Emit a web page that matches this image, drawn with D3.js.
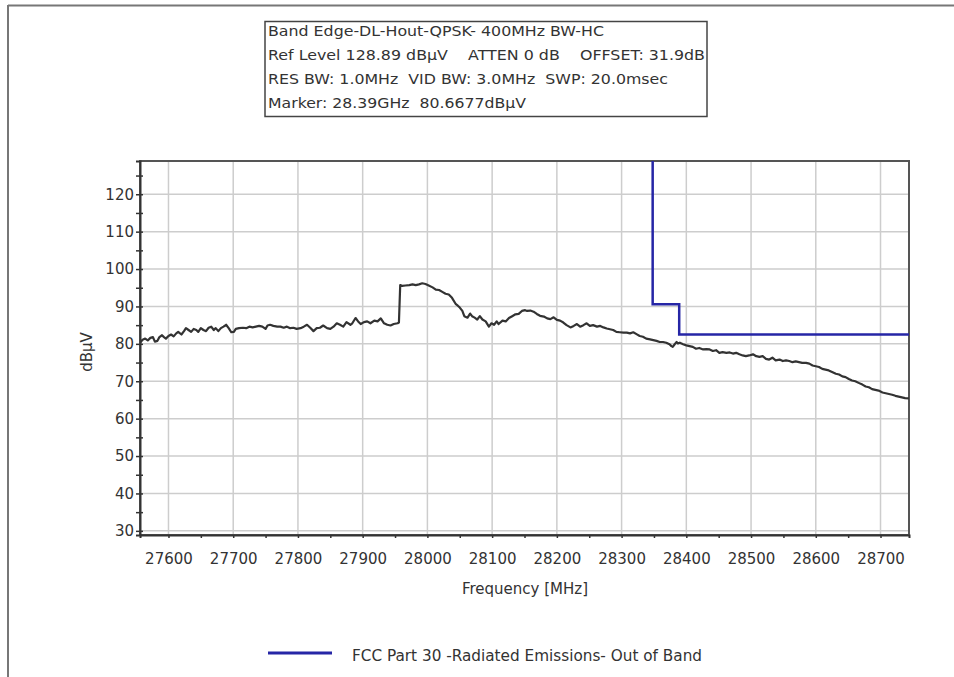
<!DOCTYPE html>
<html>
<head>
<meta charset="utf-8">
<script src="https://cdn.jsdelivr.net/npm/d3@7"></script>
<style>
  html, body { margin: 0; padding: 0; background: #fff; }
  svg { display: block; }
  text { font-family: "DejaVu Sans", "Liberation Sans", sans-serif; fill: #333; }
</style>
</head>
<body>
<svg id="chart" width="954" height="677"></svg>
<script>
// ---------------- data ----------------
const headerLines = [
  "Band Edge-DL-Hout-QPSK- 400MHz BW-HC",
  "Ref Level 128.89 dB\u00b5V    ATTEN 0 dB    OFFSET: 31.9dB",
  "RES BW: 1.0MHz  VID BW: 3.0MHz  SWP: 20.0msec",
  "Marker: 28.39GHz  80.6677dB\u00b5V"
];
const xTicks = [27600,27700,27800,27900,28000,28100,28200,28300,28400,28500,28600,28700];
const xMinorTicks = [27650,27750,27850,27950,28050,28150,28250,28350,28450,28550,28650];
const yTicks = [30,40,50,60,70,80,90,100,110,120];
const yMinorTicks = [35,45,55,65,75,85,95,105,115,125];
const xDomain = [27556, 28744];
const yDomain = [28.89, 128.89];
const xTitle = "Frequency [MHz]";
const yTitle = "dB\u00b5V";
const legendLabel = "FCC Part 30 -Radiated Emissions- Out of Band";

// measured trace (MHz, dBµV)
const traceFreq = [
  27556,27560,27564,27568,27572,27576,27579,27583,27586,27590,
  27593,27596,27600,27604,27608,27612,27615,27620,27624,27627,
  27631,27635,27639,27643,27646,27650,27654,27658,27662,27666,
  27670,27673,27677,27681,27685,27689,27693,27697,27701,27704,
  27709,27715,27720,27725,27730,27735,27740,27745,27750,27753,
  27757,27762,27768,27773,27778,27783,27788,27793,27798,27804,
  27809,27814,27819,27824,27829,27834,27839,27845,27850,27855,
  27860,27865,27870,27875,27881,27884,27889,27893,27897,27902,
  27907,27912,27918,27923,27928,27933,27938,27943,27948,27954,
  27956,27958,27961,27966,27972,27977,27982,27987,27992,27997,
  28002,28008,28013,28018,28023,28028,28033,28038,28044,28047,
  28050,28054,28057,28062,28066,28069,28073,28077,28081,28085,
  28090,28095,28099,28103,28107,28110,28116,28121,28126,28131,
  28136,28141,28146,28151,
  28154,28159,28164,28169,28174,28180,28185,28190,28195,28200,
  28205,28210,28215,28221,28226,28231,28236,28241,28246,28251,
  28256,28262,28267,28272,28277,28282,28287,28292,28297,28303,
  28308,28313,28318,28323,28328,28333,28338,28344,28349,28354,
  28359,28364,28369,28374,28377,28379,28382,28385,28387,28390,
  28395,28400,28405,28410,28415,28420,28426,28431,28436,28441,
  28446,28451,28456,28462,28467,28472,28477,28482,28487,28492,
  28497,28503,28508,28513,28518,28523,28528,28533,28538,28544,
  28549,28554,28559,28564,28569,28574,28579,28585,28590,28595,
  28600,28605,28610,28615,28620,28626,28631,28636,28641,28646,
  28651,28656,28661,28667,28672,28677,28682,28687,28692,28697,
  28703,28708,28713,28718,28723,28728,28733,28738,28744
];
const traceLevel = [
  80.3,81.1,81.4,80.9,81.6,81.8,80.6,80.8,81.8,82.3,
  81.8,81.4,82.1,82.5,82.0,82.8,83.2,82.5,83.4,84.2,
  83.7,83.2,84.0,83.7,83.2,84.2,83.7,83.4,84.3,84.6,
  83.7,84.2,83.4,84.2,84.6,85.1,84.2,83.1,83.2,84.0,
  84.2,84.3,84.2,84.6,84.4,84.6,84.8,84.6,84.0,84.9,
  85.1,84.8,84.6,84.6,84.3,84.6,84.2,84.3,84.0,84.2,
  84.6,85.1,84.3,83.4,84.2,84.3,84.9,84.2,84.0,84.6,
  85.5,85.1,84.6,85.8,85.1,85.5,86.9,86.0,85.3,85.8,
  86.0,85.5,86.2,86.0,86.8,85.5,85.1,84.9,85.3,85.5,
  85.7,95.7,95.5,95.6,95.7,95.9,95.7,95.9,96.2,96.0,
  95.6,95.1,94.5,94.4,93.9,93.4,93.2,92.3,90.6,90.2,
  89.7,88.8,87.4,87.0,88.1,87.4,87.0,86.5,87.4,86.5,
  86.0,84.6,85.5,85.1,86.0,85.3,86.2,86.0,86.9,87.4,
  87.9,88.0,88.8,89.0,
  88.8,88.9,88.6,88.0,87.5,87.3,86.8,86.6,87.1,86.4,
  86.2,85.7,85.0,84.4,84.8,85.3,84.6,85.0,85.5,84.8,
  85.0,84.6,84.8,84.4,84.1,83.9,83.7,83.2,83.1,83.0,
  83.0,82.8,83.1,82.6,82.1,81.9,81.4,81.2,81.0,80.8,
  80.5,80.5,80.3,79.9,79.4,79.2,79.9,80.5,80.1,80.3,
  79.9,79.6,79.4,79.2,78.7,78.9,78.5,78.6,78.5,78.1,
  78.3,77.6,77.8,77.6,77.7,77.4,77.6,77.2,76.9,76.7,
  76.9,77.2,76.7,76.5,76.7,76.0,75.8,76.3,75.6,75.8,
  75.4,75.6,75.4,75.1,75.3,75.1,74.9,74.9,74.7,74.2,
  74.0,73.8,73.3,73.1,72.9,72.4,72.0,71.8,71.3,71.1,
  70.6,70.2,70.0,69.5,69.1,68.6,68.4,67.9,67.7,67.5,
  67.0,66.8,66.6,66.4,66.1,65.9,65.7,65.5,65.4
];

// FCC limit line (MHz, dBµV)
const limitFreq  = [28348, 28348, 28389, 28389, 28744];
const limitLevel = [128.89, 90.6, 90.6, 82.5, 82.5];

// ---------------- layout ----------------
const plot = { left: 140, right: 909, top: 161, bottom: 535 };
const svg = d3.select("#chart");

// outer frame (top & left edges)
svg.append("line").attr("x1", 8).attr("x2", 954).attr("y1", 5.5).attr("y2", 5.5)
  .attr("stroke", "#777").attr("stroke-width", 2);
svg.append("line").attr("x1", 8).attr("x2", 8).attr("y1", 5).attr("y2", 677)
  .attr("stroke", "#777").attr("stroke-width", 2);

// header box
const hb = { x: 265, y: 21.5, w: 442, h: 95 };
svg.append("rect").attr("x", hb.x).attr("y", hb.y).attr("width", hb.w).attr("height", hb.h)
  .attr("fill", "#fff").attr("stroke", "#444").attr("stroke-width", 1.5);
const headerWidths = [336, 437, 400, 258];
const headerBaselines = [35.5, 59.5, 83.5, 107.5];
headerLines.forEach((t, i) => {
  svg.append("text")
    .attr("x", 268).attr("y", headerBaselines[i])
    .attr("font-size", 14.8)
    .style("white-space", "pre")
    .attr("textLength", headerWidths[i])
    .attr("lengthAdjust", "spacingAndGlyphs")
    .text(t);
});

const x = d3.scaleLinear().domain(xDomain).range([plot.left, plot.right]);
const y = d3.scaleLinear().domain(yDomain).range([plot.bottom, plot.top]);

// grid
const grid = svg.append("g").attr("stroke", "#cdcdcd").attr("stroke-width", 1.5);
grid.selectAll("line.v").data(xTicks).join("line")
  .attr("x1", d => x(d)).attr("x2", d => x(d))
  .attr("y1", plot.top).attr("y2", plot.bottom);
grid.selectAll("line.h").data(yTicks).join("line")
  .attr("y1", d => y(d)).attr("y2", d => y(d))
  .attr("x1", plot.left).attr("x2", plot.right);

// top/right border
svg.append("rect").attr("x", plot.left).attr("y", plot.top)
  .attr("width", plot.right - plot.left).attr("height", plot.bottom - plot.top)
  .attr("fill", "none").attr("stroke", "#555").attr("stroke-width", 2);

// clip
svg.append("clipPath").attr("id", "clip").append("rect")
  .attr("x", plot.left).attr("y", plot.top)
  .attr("width", plot.right - plot.left).attr("height", plot.bottom - plot.top);

// trace
const traceData = traceFreq.map((f, i) => [f, traceLevel[i]]);
const line = d3.line().x(d => x(d[0])).y(d => y(d[1]));
svg.append("path").datum(traceData)
  .attr("clip-path", "url(#clip)")
  .attr("fill", "none").attr("stroke", "#333").attr("stroke-width", 2.2)
  .attr("stroke-linejoin", "round")
  .attr("d", line);

// limit
const limitData = limitFreq.map((f, i) => [f, limitLevel[i]]);
svg.append("path").datum(limitData)
  .attr("clip-path", "url(#clip)")
  .attr("fill", "none").attr("stroke", "#2626a6").attr("stroke-width", 2.5)
  .attr("d", line);

// axes
function styleAxis(g) {
  g.select(".domain").attr("stroke", "#333").attr("stroke-width", 2);
  g.selectAll(".tick line").attr("stroke", "#333").attr("stroke-width", 1.5);
  g.selectAll(".tick text").attr("fill", "#333").attr("font-size", 15)
    .attr("font-family", "DejaVu Sans, sans-serif");
}
// y major
const yAxisG = svg.append("g").attr("transform", `translate(${plot.left},0)`)
  .call(d3.axisLeft(y).tickValues(yTicks).tickSize(4).tickPadding(3).tickFormat(d3.format("d")))
  .call(styleAxis);
yAxisG.selectAll(".tick line").attr("x1", 3);
yAxisG.selectAll(".tick text").attr("x", -6);
// y minor
const yMinorG = svg.append("g").attr("transform", `translate(${plot.left},0)`)
  .call(d3.axisLeft(y).tickValues(yMinorTicks).tickSize(4).tickFormat(""))
  .call(styleAxis);
yMinorG.select(".domain").remove();
yMinorG.selectAll(".tick line").attr("x1", 3);

// x major
const xAxisG = svg.append("g").attr("transform", `translate(0,${plot.bottom})`)
  .call(d3.axisBottom(x).tickValues(xTicks).tickSize(3).tickFormat(d3.format("d")))
  .call(styleAxis);
xAxisG.selectAll(".tick text").attr("y", 29).attr("dy", 0);
// x minor
const xMinorG = svg.append("g").attr("transform", `translate(0,${plot.bottom})`)
  .call(d3.axisBottom(x).tickValues(xMinorTicks).tickSize(3).tickFormat(""))
  .call(styleAxis);
xMinorG.select(".domain").remove();

// axis titles
svg.append("text").attr("x", 525).attr("y", 594).attr("text-anchor", "middle")
  .attr("font-size", 15).text(xTitle);
svg.append("text").attr("transform", "translate(92,352) rotate(-90)")
  .attr("text-anchor", "middle").attr("font-size", 15).text(yTitle);

// legend
svg.append("line").attr("x1", 268).attr("x2", 332).attr("y1", 653).attr("y2", 653)
  .attr("stroke", "#2626a6").attr("stroke-width", 3);
svg.append("text").attr("x", 352).attr("y", 660.5).attr("font-size", 15)
  .attr("textLength", 350).attr("lengthAdjust", "spacingAndGlyphs")
  .text(legendLabel);
</script>
</body>
</html>
